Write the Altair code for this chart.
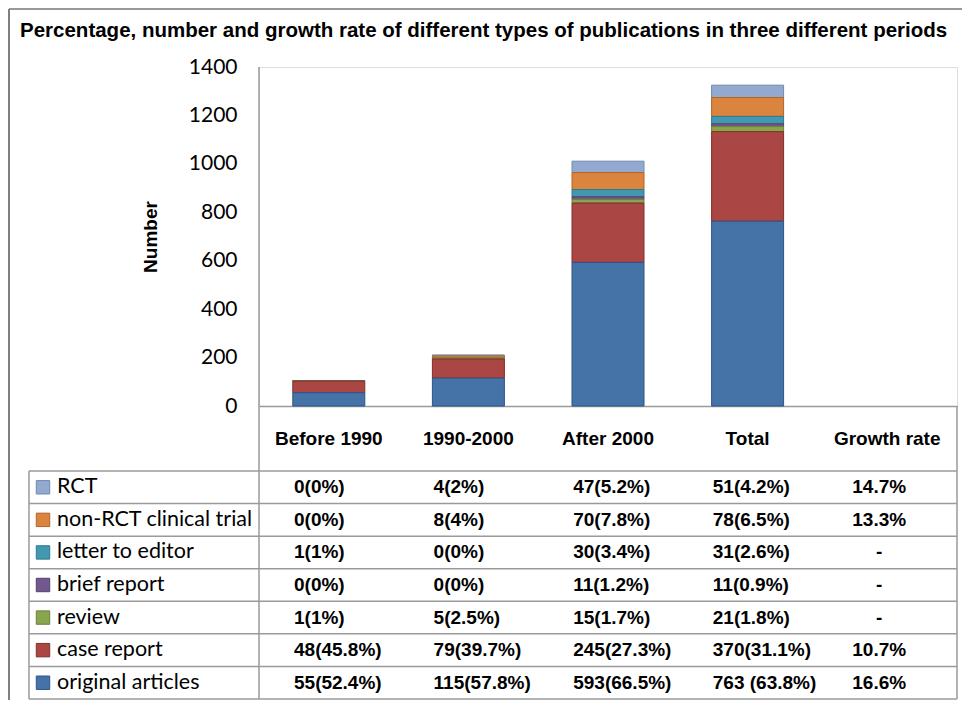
import altair as alt
import pandas as pd

# ---- data ----
title_text = "Percentage, number and growth rate of different types of publications in three different periods"
periods = ["Before 1990", "1990-2000", "After 2000", "Total"]
columns = periods + ["Growth rate"]
types = ["RCT", "non-RCT clinical trial", "letter to editor", "brief report",
         "review", "case report", "original articles"]

rct = [0, 4, 47, 51]
non_rct = [0, 8, 70, 78]
letter = [1, 0, 30, 31]
brief = [0, 0, 11, 11]
review = [1, 5, 15, 21]
case_report = [48, 79, 245, 370]
original = [55, 115, 593, 763]

rct_txt = ["0(0%)", "4(2%)", "47(5.2%)", "51(4.2%)"]
non_rct_txt = ["0(0%)", "8(4%)", "70(7.8%)", "78(6.5%)"]
letter_txt = ["1(1%)", "0(0%)", "30(3.4%)", "31(2.6%)"]
brief_txt = ["0(0%)", "0(0%)", "11(1.2%)", "11(0.9%)"]
review_txt = ["1(1%)", "5(2.5%)", "15(1.7%)", "21(1.8%)"]
case_txt = ["48(45.8%)", "79(39.7%)", "245(27.3%)", "370(31.1%)"]
original_txt = ["55(52.4%)", "115(57.8%)", "593(66.5%)", "763 (63.8%)"]

growth = ["14.7%", "13.3%", "-", "-", "-", "10.7%", "16.6%"]

colors = ["#93A9CF", "#DB843D", "#4198AF", "#71588F", "#89A54E", "#AA4643", "#4572A7"]
strokes = ["#7088B0", "#B0652A", "#2E7A8E", "#54406E", "#6A833A", "#822F2D", "#2F5586"]

counts = [rct, non_rct, letter, brief, review, case_report, original]
texts = [rct_txt, non_rct_txt, letter_txt, brief_txt, review_txt, case_txt, original_txt]

# ---- tables ----
bar_rows = []
for ti, t in enumerate(types):
    for pi, p in enumerate(periods):
        bar_rows.append({"period": p, "type": t, "count": counts[ti][pi],
                         "rank": len(types) - ti})
df_bars = pd.DataFrame(bar_rows)

cell_rows = []
for ti, t in enumerate(types):
    for pi, p in enumerate(periods):
        cell_rows.append({"period": p, "type": t, "label": texts[ti][pi]})
df_cells = pd.DataFrame(cell_rows)
df_growth = pd.DataFrame({"period": ["Growth rate"] * len(types), "type": types, "label": growth})
df_types = pd.DataFrame({"type": types})
df_lines = pd.DataFrame({"b": list(range(len(types) + 1))})
one = pd.DataFrame({"a": [0]})
df_title = pd.DataFrame({"t": [title_text]})

W, H = 698, 339
TABLE_TOP, TABLE_BOTTOM = 404, 632
GRID = "#9a9a9a"
LABEL_FONT = "Lato"
BOLD_FONT = "Liberation Sans"

x_axis = alt.Axis(labelFont=BOLD_FONT, labelFontSize=19, labelFontWeight="bold",
                  labelColor="black", labelPadding=23, ticks=False, domain=True,
                  domainColor=GRID, domainWidth=1.5, labelAngle=0, title=None)
x_scale = alt.Scale(domain=columns, paddingInner=0, paddingOuter=0)
color_scale = alt.Scale(domain=types, range=colors)
stroke_scale = alt.Scale(domain=types, range=strokes)
row_scale = alt.Scale(type="band", domain=types, range=[TABLE_TOP, TABLE_BOTTOM],
                      paddingInner=0, paddingOuter=0)

bars = alt.Chart(df_bars).transform_filter("datum.count > 0").mark_bar(
    width=72, strokeWidth=1
).encode(
    x=alt.X("period:N", scale=x_scale, axis=x_axis),
    y=alt.Y("count:Q", stack="zero", scale=alt.Scale(domain=[0, 1400], nice=False),
            axis=alt.Axis(values=[0, 200, 400, 600, 800, 1000, 1200, 1400], format="d",
                          grid=False, ticks=False, domain=False, labelFont=LABEL_FONT,
                          labelFontSize=21, labelColor="black", labelPadding=22,
                          title="Number", titleFont=BOLD_FONT, titleFontSize=19,
                          titleFontWeight="bold", titleColor="black", titlePadding=28)),
    color=alt.Color("type:N", scale=color_scale, legend=None),
    stroke=alt.Stroke("type:N", scale=stroke_scale, legend=None),
    order=alt.Order("rank:Q", sort="ascending"),
)

cells = alt.Chart(df_cells).mark_text(
    align="left", baseline="middle", dx=35, font=BOLD_FONT, fontSize=19,
    fontWeight="bold", color="black"
).encode(
    x=alt.X("period:N", scale=x_scale, axis=x_axis, bandPosition=0),
    y=alt.Y("type:N", scale=row_scale, axis=None, bandPosition=0.5),
    text="label:N",
)

growth_cells = alt.Chart(df_growth).mark_text(
    align="center", baseline="middle", dx=-8, font=BOLD_FONT, fontSize=19,
    fontWeight="bold", color="black"
).encode(
    x=alt.X("period:N", scale=x_scale, axis=x_axis, bandPosition=0.5),
    y=alt.Y("type:N", scale=row_scale, axis=None, bandPosition=0.5),
    text="label:N",
)

row_labels = alt.Chart(df_types).mark_text(
    align="left", baseline="middle", font=LABEL_FONT, fontSize=21.5, color="black"
).encode(
    x=alt.value(-202),
    y=alt.Y("type:N", scale=row_scale, axis=None, bandPosition=0.5),
    text="type:N",
)

swatches = alt.Chart(df_types).mark_square(size=180, filled=True, opacity=1, strokeWidth=1).encode(
    x=alt.value(-216),
    y=alt.Y("type:N", scale=row_scale, axis=None, bandPosition=0.5),
    color=alt.Color("type:N", scale=color_scale, legend=None),
    stroke=alt.Stroke("type:N", scale=stroke_scale, legend=None),
)

hlines = alt.Chart(df_lines).mark_rule(color=GRID, strokeWidth=1.5).encode(
    x=alt.value(-230), x2=alt.value(W),
    y=alt.Y("b:Q", scale=alt.Scale(domain=[0, len(types)], range=[TABLE_TOP, TABLE_BOTTOM]),
            axis=None),
)

yline = alt.Chart(one).mark_rule(color=GRID, strokeWidth=1.5).encode(
    x=alt.value(0), y=alt.value(0), y2=alt.value(TABLE_BOTTOM))
right_line = alt.Chart(one).mark_rule(color=GRID, strokeWidth=1.5).encode(
    x=alt.value(W), y=alt.value(H), y2=alt.value(TABLE_BOTTOM))
left_line = alt.Chart(one).mark_rule(color=GRID, strokeWidth=1.5).encode(
    x=alt.value(-230), y=alt.value(TABLE_TOP), y2=alt.value(TABLE_BOTTOM))
frame_left = alt.Chart(one).mark_rule(color="#555555", strokeWidth=1.5).encode(
    x=alt.value(-250), y=alt.value(-58), y2=alt.value(TABLE_BOTTOM + 2))
frame_top = alt.Chart(one).mark_rule(color="#777777", strokeWidth=1.5).encode(
    x=alt.value(-250), x2=alt.value(W + 8), y=alt.value(-58))

title = alt.Chart(df_title).mark_text(
    align="left", baseline="alphabetic", font=BOLD_FONT, fontSize=20.5,
    fontWeight="bold", color="black"
).encode(x=alt.value(-239), y=alt.value(-30), text="t:N")

chart = alt.layer(
    bars, hlines, yline, right_line, left_line, frame_left, frame_top,
    swatches, row_labels, cells, growth_cells, title
).resolve_scale(
    y="independent"
).properties(
    width=W, height=H,
    padding={"left": 251, "top": 59, "right": 5, "bottom": 294},
    autosize=alt.AutoSizeParams(type="none"),
).configure_view(stroke=None).configure(background="white")

chart.save("out.html", embed_options={"renderer": "svg", "actions": False})
